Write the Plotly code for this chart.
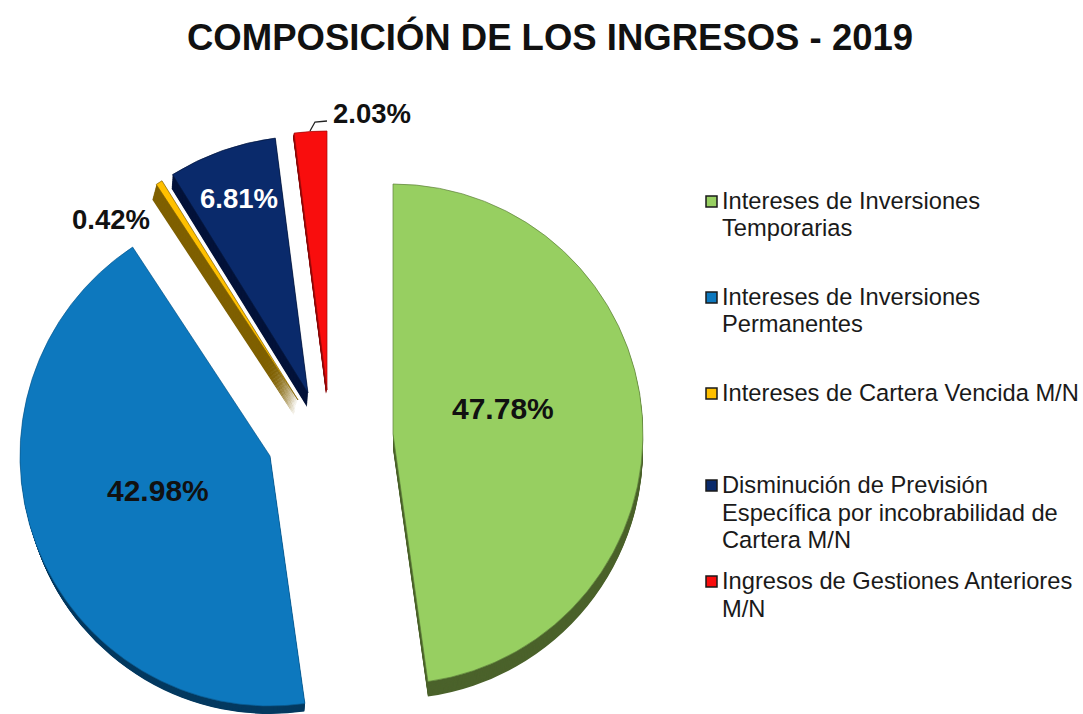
import plotly.graph_objects as go

W, H = 1083, 714

categories = [
    "Intereses de Inversiones Temporarias",
    "Intereses de Inversiones Permanentes",
    "Intereses de Cartera Vencida M/N",
    "Disminución de Previsión Específica por incobrabilidad de Cartera M/N",
    "Ingresos de Gestiones Anteriores M/N",
]
values = [47.78, 42.98, 0.42, 6.81, 2.03]
colors = ["#97CF61", "#0D78BE", "#FFC000", "#0A2A6B", "#F90D0D"]
side_colors = ["#4B622B", "#053A60", "#7F6000", "#04133A", "#8A0A0A"]
edge_colors = ["#5F7F3C", "#0A5C92", "#7F6000", "#06183F", "#A00A0A"]
title_text = "COMPOSICIÓN DE LOS INGRESOS - 2019"
legend_lines = [
    ["Intereses de Inversiones", "Temporarias"],
    ["Intereses de Inversiones", "Permanentes"],
    ["Intereses de Cartera Vencida M/N"],
    ["Disminución de Previsión", "Específica por incobrabilidad de", "Cartera M/N"],
    ["Ingresos de Gestiones Anteriores", "M/N"],
]

# slice apex (px), radius (px), offset of the side (px)
centers = [(393, 434), (270, 456), (298, 400), (308, 393), (327, 390)]
radii = [250, 250, 258, 257, 259]
depths = [15, 12, 15, 14, 4]
side_dx = [0, 0, -4, -1, -1]
side_radii = [250, 246, 258, 257, 259]
EXTRUDE_STEPS = 16

T = "rgba(0,0,0,0)"


def dom(cx, cy, r):
    return dict(x=[(cx - r) / W, (cx + r) / W], y=[1 - (cy + r) / H, 1 - (cy - r) / H])


def slice_trace(i, cx, cy, r, palette, edge, lw):
    return go.Pie(
        labels=categories,
        values=values,
        sort=False,
        direction="clockwise",
        rotation=0,
        textinfo="none",
        hoverinfo="skip",
        showlegend=False,
        domain=dom(cx, cy, r),
        marker=dict(
            colors=[palette[k] if k == i else T for k in range(len(values))],
            line=dict(
                color=[edge[k] if k == i else T for k in range(len(values))],
                width=lw,
            ),
        ),
    )


fig = go.Figure()
for i in range(len(values)):
    cx, cy = centers[i]
    for step in range(EXTRUDE_STEPS, 0, -1):
        f = step / EXTRUDE_STEPS
        fig.add_trace(slice_trace(i, cx + side_dx[i] * f, cy + depths[i] * f,
                                  radii[i] + (side_radii[i] - radii[i]) * f,
                                  side_colors, side_colors, 0))
for i in range(len(values)):
    cx, cy = centers[i]
    fig.add_trace(slice_trace(i, cx, cy, radii[i], colors, edge_colors, 0.7))

ann = []


def text(x, y, s, size, color="#111111", bold=False, anchor="left"):
    ann.append(dict(
        x=x / W, y=1 - y / H, xref="paper", yref="paper", text=f"<b>{s}</b>" if bold else s,
        showarrow=False, xanchor=anchor, yanchor="middle",
        font=dict(family="Liberation Sans, Arial, sans-serif", size=size, color=color),
    ))


text(550, 37, title_text, 36.5, bold=True, anchor="center")

label_pos = [(503, 408, "#111111", 30), (158, 490, "#111111", 30), (111, 219, "#111111", 27.5),
             (239, 198, "#FFFFFF", 27.5), (372, 114, "#111111", 27.5)]
for v, (x, y, c, s) in zip(values, label_pos):
    text(x, y, f"{v:.2f}%", s, color=c, bold=True, anchor="center")

legend_y = [201, 297, 393, 485, 581]
shapes = []
for lines, y0, c in zip(legend_lines, legend_y, colors):
    shapes.append(dict(type="rect", xref="paper", yref="paper",
                       x0=706 / W, x1=717 / W, y0=1 - (y0 + 6) / H, y1=1 - (y0 - 5) / H,
                       fillcolor=c, line=dict(color="#1a1a1a", width=1.5)))
    for j, line in enumerate(lines):
        text(720, y0 + j * 27.5, line, 23.7, color="#1a1a1a")

# leader line of the 2.03% label
shapes.append(dict(type="path", xref="paper", yref="paper",
                   path=f"M {310/W} {1-131/H} L {315/W} {1-122/H} L {327/W} {1-121/H}",
                   line=dict(color="#222222", width=1.3)))

fig.update_layout(
    width=W, height=H, autosize=False,
    margin=dict(l=0, r=0, t=0, b=0),
    paper_bgcolor="white", plot_bgcolor="white",
    annotations=ann, shapes=shapes, showlegend=False,
)
fig.write_html("out.html", config={"displayModeBar": False},
               post_script="document.body.style.margin='0';document.body.style.overflow='hidden';")
